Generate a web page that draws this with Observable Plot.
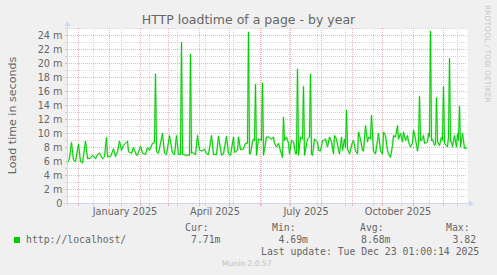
<!DOCTYPE html>
<html><head><meta charset="utf-8">
<script src="https://cdn.jsdelivr.net/npm/d3@7"></script>
<script src="https://cdn.jsdelivr.net/npm/@observablehq/plot@0.6"></script>
<style>
html,body{margin:0;padding:0;background:#F0F0F0;}
#wrap{width:497px;height:275px;overflow:hidden;}
</style></head><body><div id="wrap"></div>
<script>
const title = "HTTP loadtime of a page - by year";
const yTitle = "Load time in seconds";
const watermark = "RRDTOOL / TOBI OETIKER";
const footer = "Munin 2.0.57";
const seriesName = "http://localhost/";
const legendHeads = ["Cur:", "Min:", "Avg:", "Max:"];
const legendVals = ["7.71m", "4.69m", "8.68m", "3.82"];
const lastUpdate = "Last update: Tue Dec 23 01:00:14 2025";

const yMajor = [0, 2, 4, 6, 8, 10, 12, 14, 16, 18, 20, 22, 24];
const yMinor = [1, 3, 5, 7, 9, 11, 13, 15, 17, 19, 21, 23, 25];
const monthStarts = ["2024-12-01","2025-01-01","2025-02-01","2025-03-01","2025-04-01","2025-05-01","2025-06-01","2025-07-01","2025-08-01","2025-09-01","2025-10-01","2025-11-01","2025-12-01"];
const minorWeeks = ["2024-12-16","2025-01-13","2025-02-10","2025-03-10","2025-04-07","2025-05-05","2025-06-02","2025-06-30","2025-07-28","2025-08-25","2025-09-22","2025-10-20","2025-11-17","2025-12-15"];
const xLabelDates = ["2025-01-16T12:00Z","2025-04-16T12:00Z","2025-07-16T12:00Z","2025-10-16T12:00Z"];
const xLabels = ["January 2025", "April 2025", "July 2025", "October 2025"];
const xDomain = ["2024-11-20", "2025-12-25"];

const dates = [
"2024-11-20","2024-11-22","2024-11-24","2024-11-26","2024-11-28",
"2024-12-01","2024-12-03","2024-12-05","2024-12-08","2024-12-10","2024-12-13","2024-12-15","2024-12-18","2024-12-20","2024-12-22","2024-12-25","2024-12-27","2024-12-29","2024-12-30",
"2025-01-02","2025-01-05","2025-01-07","2025-01-09","2025-01-11","2025-01-13","2025-01-15","2025-01-17","2025-01-19","2025-01-20","2025-01-23","2025-01-25","2025-01-28","2025-01-29",
"2025-02-01","2025-02-03","2025-02-06","2025-02-08","2025-02-10","2025-02-13","2025-02-15","2025-02-16","2025-02-17","2025-02-19","2025-02-23","2025-02-25","2025-02-27",
"2025-03-02","2025-03-05","2025-03-07","2025-03-09","2025-03-11","2025-03-13","2025-03-14","2025-03-15","2025-03-16","2025-03-18","2025-03-21","2025-03-22","2025-03-23","2025-03-24","2025-03-25","2025-03-28","2025-03-30",
"2025-04-01","2025-04-04","2025-04-06","2025-04-08","2025-04-10","2025-04-13","2025-04-15","2025-04-18","2025-04-20","2025-04-23","2025-04-25","2025-04-28","2025-04-30",
"2025-05-02","2025-05-05","2025-05-06","2025-05-09","2025-05-10","2025-05-12","2025-05-15","2025-05-17","2025-05-19","2025-05-20","2025-05-21","2025-05-22","2025-05-24","2025-05-25","2025-05-26","2025-05-27","2025-05-28","2025-05-30",
"2025-06-02","2025-06-03","2025-06-04","2025-06-07","2025-06-09","2025-06-12","2025-06-14","2025-06-15","2025-06-17","2025-06-19","2025-06-21","2025-06-23","2025-06-24","2025-06-25","2025-06-27","2025-06-29","2025-06-30",
"2025-07-02","2025-07-04","2025-07-06","2025-07-07","2025-07-08","2025-07-09","2025-07-11","2025-07-13","2025-07-14","2025-07-15","2025-07-18","2025-07-20","2025-07-21","2025-07-22","2025-07-23","2025-07-25","2025-07-28","2025-07-29","2025-07-31",
"2025-08-02","2025-08-03","2025-08-05","2025-08-07","2025-08-09","2025-08-11","2025-08-13","2025-08-14","2025-08-16","2025-08-18","2025-08-19","2025-08-21","2025-08-22","2025-08-24","2025-08-25","2025-08-26","2025-08-27","2025-08-29",
"2025-09-01","2025-09-02","2025-09-04","2025-09-06","2025-09-07","2025-09-09","2025-09-11","2025-09-12","2025-09-14","2025-09-16","2025-09-17","2025-09-19","2025-09-20","2025-09-22","2025-09-24","2025-09-26","2025-09-27","2025-09-29",
"2025-10-01","2025-10-02","2025-10-04","2025-10-06","2025-10-07","2025-10-09","2025-10-11","2025-10-12","2025-10-14","2025-10-16","2025-10-17","2025-10-19","2025-10-21","2025-10-22","2025-10-24","2025-10-26","2025-10-27","2025-10-29","2025-10-31",
"2025-11-01","2025-11-03","2025-11-05","2025-11-06","2025-11-07","2025-11-08","2025-11-09","2025-11-11","2025-11-12","2025-11-15","2025-11-16","2025-11-17","2025-11-18","2025-11-19","2025-11-20","2025-11-22","2025-11-23","2025-11-24","2025-11-25","2025-11-27","2025-11-29","2025-11-30",
"2025-12-01","2025-12-02","2025-12-05","2025-12-06","2025-12-07","2025-12-08","2025-12-09","2025-12-10","2025-12-12","2025-12-14","2025-12-15","2025-12-16","2025-12-17","2025-12-18","2025-12-20","2025-12-22","2025-12-24"
];
// load time in milliseconds ("m")
const loadMs = [
5.9,6.4,8.7,6.2,6.0,
8.5,6.0,5.8,8.9,6.4,6.5,6.9,6.4,7.0,7.2,6.4,6.7,9.4,6.7,
6.7,7.8,6.7,7.4,8.9,7.6,8.3,8.6,8.9,7.4,7.2,8.0,6.9,6.9,
8.2,7.2,7.0,8.0,7.6,8.6,8.7,18.5,7.4,7.2,10.0,7.2,7.0,
9.7,7.2,7.0,9.7,7.0,7.0,23.0,7.0,7.0,6.9,6.9,6.9,21.3,7.2,7.3,7.0,9.7,
7.6,7.5,7.8,7.1,7.0,9.7,7.0,7.0,9.6,6.9,7.1,9.6,7.1,
6.9,9.5,7.3,7.6,9.5,7.7,7.8,8.6,8.6,24.5,7.1,7.1,8.8,9.2,9.0,17.0,6.9,9.2,
9.0,17.2,6.9,9.5,9.5,9.2,9.5,8.6,8.1,8.6,7.5,6.6,12.3,9.0,9.5,8.6,7.1,
9.0,8.8,7.1,7.1,19.2,6.9,9.5,9.2,16.7,6.9,9.2,9.5,18.5,7.0,6.9,9.2,8.8,7.6,7.5,
9.0,9.0,9.2,8.1,9.5,8.8,7.1,9.7,9.2,7.6,7.1,9.5,7.6,9.2,8.0,13.3,7.8,7.1,
8.8,9.0,7.5,7.1,10.2,9.2,7.6,7.5,11.1,8.8,9.5,9.2,12.6,7.5,7.1,9.0,10.0,7.5,
7.1,10.2,9.7,7.6,7.1,6.6,8.3,9.7,9.5,11.1,9.2,10.0,8.8,10.2,9.0,9.7,8.8,8.1,8.6,
10.5,9.2,7.5,8.6,15.3,9.0,9.0,9.7,8.6,8.8,10.0,9.5,24.6,9.0,9.2,8.3,8.5,15.1,8.8,8.3,9.5,9.0,
16.7,8.6,8.1,9.5,20.7,8.8,8.8,8.1,9.7,8.1,10.0,9.0,13.9,8.1,10.0,7.9,7.9
];

const data = dates.map((d, i) => ({date: new Date(d), v: loadMs[i]}));
const toDate = s => new Date(s);

const GRID = "#d6d6d6", MGRID = "#eeb0b0", AXIS = "#CFD6F8", FONT = "#666666";

const plot = Plot.plot({
  width: 497, height: 275,
  marginLeft: 67, marginRight: 30, marginTop: 28, marginBottom: 72,
  style: {background: "#F0F0F0", fontFamily: "DejaVu Sans", fontSize: "9.7px", color: FONT, overflow: "visible"},
  x: {type: "utc", domain: xDomain.map(toDate), axis: null, label: null},
  y: {domain: [0, 25], axis: null, label: null},
  marks: [
    Plot.frame({fill: "white", stroke: null}),
    Plot.ruleY(yMinor, {stroke: GRID, strokeDasharray: "1,1"}),
    Plot.ruleX(minorWeeks.map(toDate), {stroke: GRID, strokeDasharray: "1,1"}),
    Plot.ruleY(yMajor.filter(d => d > 0), {stroke: MGRID, strokeDasharray: "1,1"}),
    Plot.ruleX(monthStarts.map(toDate), {stroke: MGRID, strokeDasharray: "1,1"}),
    Plot.axisY({ticks: yMinor, tickSize: 2, stroke: GRID, tickFormat: () => "", label: null}),
    Plot.axisY({ticks: yMajor, tickSize: 2, tickPadding: 3, stroke: MGRID, fill: FONT, label: null,
      tickFormat: d => d === 0 ? "0" : d + " m"}),
    Plot.axisX({ticks: minorWeeks.map(toDate), tickSize: 3, stroke: GRID, tickFormat: () => "", label: null}),
    Plot.axisX({ticks: monthStarts.map(toDate), tickSize: 3, stroke: MGRID, tickFormat: () => "", label: null}),
    Plot.axisX({ticks: xLabelDates.map(toDate), tickSize: 0, tickPadding: 5, fill: FONT, label: null,
      tickFormat: (d, i) => xLabels[i]}),
    Plot.line(data, {x: "date", y: "v", stroke: "#7fe07f", strokeWidth: 2.2, strokeOpacity: 0.45}),
    Plot.line(data, {x: "date", y: "v", stroke: "#00CC00", strokeWidth: 1})
  ]
});

document.getElementById("wrap").appendChild(plot);

// axes lines, arrows and surrounding texts
const svg = d3.select(plot);
const [x0, x1] = plot.scale("x").range;
const [yb, yt] = plot.scale("y").range;
const g = svg.append("g").attr("text-anchor", "start");
g.append("line").attr("x1", x0 + 0.5).attr("x2", x0 + 0.5).attr("y1", yb + 3).attr("y2", yt - 2)
  .attr("stroke", AXIS);
g.append("line").attr("x1", x0 - 3).attr("x2", x1 + 2).attr("y1", yb + 0.5).attr("y2", yb + 0.5)
  .attr("stroke", AXIS);
g.append("path").attr("d", `M${x0 + 0.5},${yt - 7}L${x0 + 3.5},${yt - 2}L${x0 - 2.5},${yt - 2}Z`).attr("fill", AXIS);
g.append("path").attr("d", `M${x1 + 7},${yb + 0.5}L${x1 + 2},${yb + 3.5}L${x1 + 2},${yb - 2.5}Z`).attr("fill", AXIS);

const sans = "DejaVu Sans", mono = "DejaVu Sans Mono";
function txt(s, x, y, size, fam, opts = {}) {
  const t = g.append("text").attr("x", x).attr("y", y).text(s)
    .attr("font-family", fam).attr("font-size", size).attr("fill", opts.fill || FONT)
    .attr("text-anchor", opts.anchor || "start");
  if (opts.rotate) t.attr("transform", `rotate(${opts.rotate},${x},${y})`);
  return t;
}
txt(title, 248.5, 23.5, "12.5px", sans, {anchor: "middle"});
txt(yTitle, 15.5, (yb + yt) / 2, "11.1px", sans, {anchor: "middle", rotate: -90});
txt(watermark, 485, 5, "7.6px", sans, {rotate: 90, fill: "#c8c8c8"});

g.append("rect").attr("x", 14).attr("y", 237).attr("width", 6).attr("height", 6).attr("fill", "#00CC00");
txt(seriesName, 26, 243, "9.8px", mono);
const headX = [185, 272, 360, 446];
const valX = [191, 278.5, 361, 452.5];
legendHeads.forEach((h, i) => txt(h, headX[i], 231, "9.8px", mono));
legendVals.forEach((v, i) => txt(v, valX[i], 243, "9.8px", mono));
txt(lastUpdate, 261, 255, "9.8px", mono);
txt(footer, 222, 266, "7.6px", sans, {fill: "#c0c0c0"});
</script>
</body></html>
